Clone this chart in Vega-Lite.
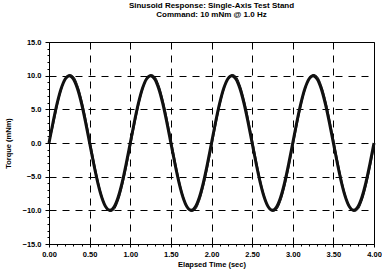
{
  "$schema": "https://vega.github.io/schema/vega-lite/v6.json",
  "width": 325,
  "height": 202,
  "autosize": {"type": "none"},
  "padding": {"left": 49, "top": 42, "right": 8, "bottom": 31},
  "background": "white",
  "config": {
    "view": {"stroke": "#000", "strokeWidth": 1},
    "font": "Liberation Sans",
    "title": {"font": "Liberation Sans", "fontWeight": "bold", "fontSize": 8, "color": "#000"}
  },
  "title": {
    "text": ["Sinusoid Response: Single-Axis Test Stand", "Command: 10 mNm @ 1.0 Hz"],
    "anchor": "middle",
    "offset": 19,
    "lineHeight": 9
  },
  "data": {
    "values": [
      {"t": 0, "a": 0, "b": 0},
      {"t": 0.05, "a": 3.09, "b": 2.41},
      {"t": 0.1, "a": 5.88, "b": 5.36},
      {"t": 0.15, "a": 8.09, "b": 7.78},
      {"t": 0.2, "a": 9.51, "b": 9.44},
      {"t": 0.25, "a": 10, "b": 10.17},
      {"t": 0.3, "a": 9.51, "b": 9.91},
      {"t": 0.35, "a": 8.09, "b": 8.68},
      {"t": 0.4, "a": 5.88, "b": 6.6},
      {"t": 0.45, "a": 3.09, "b": 3.87},
      {"t": 0.5, "a": 0, "b": 0.77},
      {"t": 0.55, "a": -3.09, "b": -2.41},
      {"t": 0.6, "a": -5.88, "b": -5.36},
      {"t": 0.65, "a": -8.09, "b": -7.78},
      {"t": 0.7, "a": -9.51, "b": -9.44},
      {"t": 0.75, "a": -10, "b": -10.17},
      {"t": 0.8, "a": -9.51, "b": -9.91},
      {"t": 0.85, "a": -8.09, "b": -8.68},
      {"t": 0.9, "a": -5.88, "b": -6.6},
      {"t": 0.95, "a": -3.09, "b": -3.87},
      {"t": 1.0, "a": 0, "b": -0.77},
      {"t": 1.05, "a": 3.09, "b": 2.41},
      {"t": 1.1, "a": 5.88, "b": 5.36},
      {"t": 1.15, "a": 8.09, "b": 7.78},
      {"t": 1.2, "a": 9.51, "b": 9.44},
      {"t": 1.25, "a": 10, "b": 10.17},
      {"t": 1.3, "a": 9.51, "b": 9.91},
      {"t": 1.35, "a": 8.09, "b": 8.68},
      {"t": 1.4, "a": 5.88, "b": 6.6},
      {"t": 1.45, "a": 3.09, "b": 3.87},
      {"t": 1.5, "a": 0, "b": 0.77},
      {"t": 1.55, "a": -3.09, "b": -2.41},
      {"t": 1.6, "a": -5.88, "b": -5.36},
      {"t": 1.65, "a": -8.09, "b": -7.78},
      {"t": 1.7, "a": -9.51, "b": -9.44},
      {"t": 1.75, "a": -10, "b": -10.17},
      {"t": 1.8, "a": -9.51, "b": -9.91},
      {"t": 1.85, "a": -8.09, "b": -8.68},
      {"t": 1.9, "a": -5.88, "b": -6.6},
      {"t": 1.95, "a": -3.09, "b": -3.87},
      {"t": 2.0, "a": 0, "b": -0.77},
      {"t": 2.05, "a": 3.09, "b": 2.41},
      {"t": 2.1, "a": 5.88, "b": 5.36},
      {"t": 2.15, "a": 8.09, "b": 7.78},
      {"t": 2.2, "a": 9.51, "b": 9.44},
      {"t": 2.25, "a": 10, "b": 10.17},
      {"t": 2.3, "a": 9.51, "b": 9.91},
      {"t": 2.35, "a": 8.09, "b": 8.68},
      {"t": 2.4, "a": 5.88, "b": 6.6},
      {"t": 2.45, "a": 3.09, "b": 3.87},
      {"t": 2.5, "a": 0, "b": 0.77},
      {"t": 2.55, "a": -3.09, "b": -2.41},
      {"t": 2.6, "a": -5.88, "b": -5.36},
      {"t": 2.65, "a": -8.09, "b": -7.78},
      {"t": 2.7, "a": -9.51, "b": -9.44},
      {"t": 2.75, "a": -10, "b": -10.17},
      {"t": 2.8, "a": -9.51, "b": -9.91},
      {"t": 2.85, "a": -8.09, "b": -8.68},
      {"t": 2.9, "a": -5.88, "b": -6.6},
      {"t": 2.95, "a": -3.09, "b": -3.87},
      {"t": 3.0, "a": 0, "b": -0.77},
      {"t": 3.05, "a": 3.09, "b": 2.41},
      {"t": 3.1, "a": 5.88, "b": 5.36},
      {"t": 3.15, "a": 8.09, "b": 7.78},
      {"t": 3.2, "a": 9.51, "b": 9.44},
      {"t": 3.25, "a": 10, "b": 10.17},
      {"t": 3.3, "a": 9.51, "b": 9.91},
      {"t": 3.35, "a": 8.09, "b": 8.68},
      {"t": 3.4, "a": 5.88, "b": 6.6},
      {"t": 3.45, "a": 3.09, "b": 3.87},
      {"t": 3.5, "a": 0, "b": 0.77},
      {"t": 3.55, "a": -3.09, "b": -2.41},
      {"t": 3.6, "a": -5.88, "b": -5.36},
      {"t": 3.65, "a": -8.09, "b": -7.78},
      {"t": 3.7, "a": -9.51, "b": -9.44},
      {"t": 3.75, "a": -10, "b": -10.17},
      {"t": 3.8, "a": -9.51, "b": -9.91},
      {"t": 3.85, "a": -8.09, "b": -8.68},
      {"t": 3.9, "a": -5.88, "b": -6.6},
      {"t": 3.95, "a": -3.09, "b": -3.87},
      {"t": 4.0, "a": 0, "b": -0.77}
    ]
  },
  "encoding": {
    "x": {
      "field": "t",
      "type": "quantitative",
      "scale": {"domain": [0, 4], "nice": false, "zero": false},
      "axis": {
        "title": "Elapsed Time (sec)",
        "values": [0,0.1,0.2,0.3,0.4,0.5,0.6,0.7,0.8,0.9,1,1.1,1.2,1.3,1.4,1.5,1.6,1.7,1.8,1.9,2,2.1,2.2,2.3,2.4,2.5,2.6,2.7,2.8,2.9,3,3.1,3.2,3.3,3.4,3.5,3.6,3.7,3.8,3.9,4],
        "format": ".2f",
        "labelExpr": "round(datum.value*10) % 5 == 0 ? datum.label : ''",
        "labelFont": "Liberation Sans",
        "labelFontWeight": "bold",
        "labelFontSize": 7.5,
        "labelColor": "#000",
        "labelPadding": 3,
        "labelFlush": false,
        "labelOverlap": false,
        "tickColor": "#000",
        "tickSize": {"condition": {"test": "round(datum.value*10) % 5 == 0", "value": 3}, "value": 2},
        "domainColor": "#000",
        "grid": true,
        "gridColor": "#000",
        "gridDash": [7, 6],
        "gridWidth": 1,
        "gridOpacity": {"condition": {"test": "round(datum.value*10) % 5 == 0", "value": 1}, "value": 0},
        "titleFont": "Liberation Sans",
        "titleFontWeight": "bold",
        "titleFontSize": 7.5,
        "titleColor": "#000",
        "titlePadding": 3
      }
    },
    "y": {
      "type": "quantitative",
      "scale": {"domain": [-15, 15], "nice": false, "zero": false},
      "axis": {
        "title": "Torque (mNm)",
        "values": [-15,-14,-13,-12,-11,-10,-9,-8,-7,-6,-5,-4,-3,-2,-1,0,1,2,3,4,5,6,7,8,9,10,11,12,13,14,15],
        "format": ".1f",
        "labelExpr": "datum.value % 5 == 0 ? datum.label : ''",
        "labelFont": "Liberation Sans",
        "labelFontWeight": "bold",
        "labelFontSize": 7.5,
        "labelColor": "#000",
        "labelPadding": 4,
        "labelFlush": false,
        "labelOverlap": false,
        "tickColor": "#000",
        "tickSize": {"condition": {"test": "datum.value % 5 == 0", "value": 4}, "value": 2},
        "domainColor": "#000",
        "grid": true,
        "gridColor": "#000",
        "gridDash": [7, 6],
        "gridWidth": 1,
        "gridOpacity": {"condition": {"test": "datum.value % 5 == 0 && abs(datum.value) < 15", "value": 1}, "value": 0},
        "titleFont": "Liberation Sans",
        "titleFontWeight": "bold",
        "titleFontSize": 7.5,
        "titleColor": "#000",
        "titlePadding": 10
      }
    }
  },
  "layer": [
    {
      "mark": {"type": "line", "color": "#111", "strokeWidth": 3, "interpolate": "monotone"},
      "encoding": {"y": {"field": "a", "type": "quantitative"}}
    },
    {
      "mark": {"type": "line", "color": "#111", "strokeWidth": 1, "interpolate": "catmull-rom"},
      "encoding": {"y": {"field": "b", "type": "quantitative"}}
    }
  ]
}
